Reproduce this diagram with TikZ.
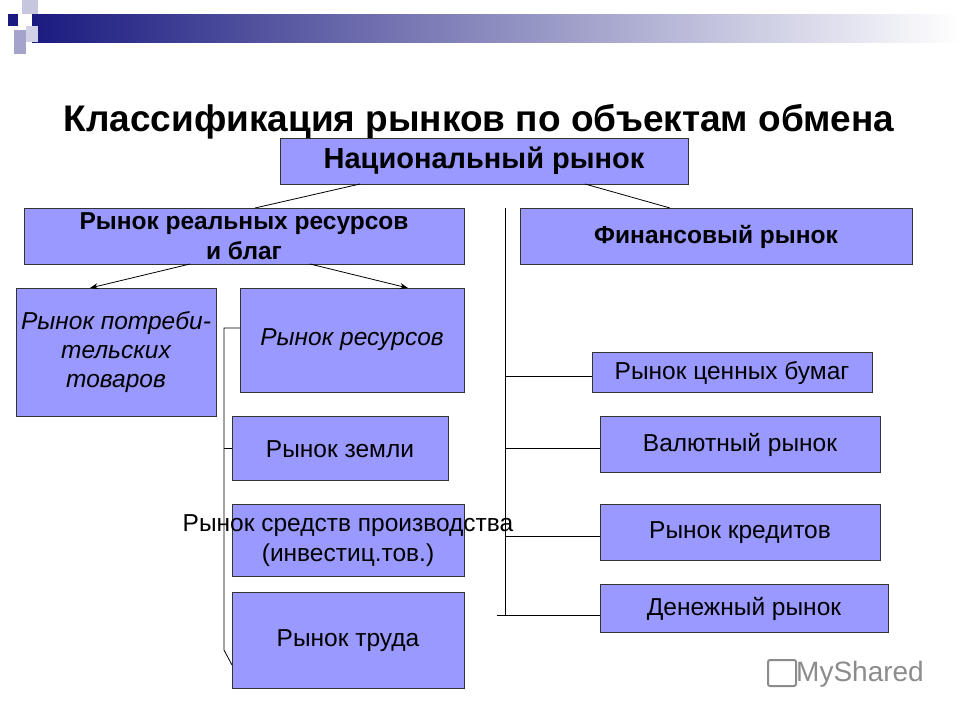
\documentclass[tikz,border=0pt]{standalone}
\usepackage{fontspec}
\setmainfont{Liberation Sans}
\usetikzlibrary{arrows.meta}
\definecolor{bx}{HTML}{9999FF}
\definecolor{navy}{HTML}{1A1A80}
\begin{document}
\begin{tikzpicture}[x=1pt,y=-1pt,
  box/.style={draw=black!80,fill=bx,line width=0.8pt},
  lbl/.style={align=center,font=\fontsize{24.5}{28}\selectfont},
  ln/.style={line width=0.8pt}]
\useasboundingbox (0,0) rectangle (960,720);
\fill[white] (0,0) rectangle (960,720);
% header
\shade[left color=navy,right color=white] (32,14) rectangle (960,42);
\fill[navy] (8,14) rectangle (18,26);
\fill[navy!25] (22,0) rectangle (38,14);
\fill[navy!40] (14,30) rectangle (26,54);
\fill[navy!20] (26,26) rectangle (38,42);
\node[font=\bfseries\fontsize{37}{42}\selectfont] (title) at (479,122) {Классификация рынков по объектам обмена};
% boxes
\draw[box] (280,138) rectangle (688,184); \node[font=\bfseries\fontsize{29}{34}\selectfont] (nat) at (484,161) {Национальный рынок};
\draw[box] (24,208) rectangle (464,264); \node[lbl,font=\bfseries\fontsize{24.5}{30}\selectfont] (real) at (244,236) {Рынок реальных ресурсов\\и благ};
\draw[box] (520,208) rectangle (912,264); \node[lbl,font=\bfseries\fontsize{24.5}{28}\selectfont] (fin) at (716,237) {Финансовый рынок};
\draw[box] (16,288) rectangle (216,416); \node[lbl,font=\itshape\fontsize{24.5}{29}\selectfont] (cons) at (116,352) {Рынок потреби-\\тельских\\товаров};
\draw[box] (240,288) rectangle (464,392); \node[lbl,font=\itshape\fontsize{24.5}{28}\selectfont] (res) at (352,340) {Рынок ресурсов};
\draw[box] (232,416) rectangle (448,480); \node[lbl] (land) at (340,449) {Рынок земли};
\draw[box] (232,504) rectangle (464,576); \node[lbl,font=\fontsize{24.5}{30}\selectfont] (mean) at (348,541) {Рынок средств производства\\(инвестиц.тов.)};
\draw[box] (232,592) rectangle (464,688); \node[lbl] (lab) at (348,641) {Рынок труда};
\draw[box] (592,352) rectangle (872,392); \node[lbl] (sec) at (732,373) {Рынок ценных бумаг};
\draw[box] (600,416) rectangle (880,472); \node[lbl] (cur) at (740,445) {Валютный рынок};
\draw[box] (600,504) rectangle (880,560); \node[lbl] (cred) at (740,533) {Рынок кредитов};
\draw[box] (600,584) rectangle (888,632); \node[lbl] (mon) at (744,609) {Денежный рынок};
% connectors
\coordinate (n1) at (360,184); \coordinate (n2) at (585,184);
\coordinate (r1) at (255,208); \coordinate (f1) at (670,208);
\draw[ln] (n1) -- (r1); \draw[ln] (n2) -- (f1);
\coordinate (a1) at (190,264); \coordinate (a2) at (90,288);
\coordinate (b1) at (310,264); \coordinate (b2) at (408,288);
\draw[ln,-{Stealth[length=8pt,width=6pt]}] (a1) -- (a2);
\draw[ln,-{Stealth[length=8pt,width=6pt]}] (b1) -- (b2);
% left bracket
\coordinate (lt) at (224,328); \coordinate (lb) at (224,650); \coordinate (le) at (232,665);
\draw[ln] (240,328) -- (lt) -- (lb) -- (le);
\draw[ln] (224,448) -- (232,448);
% right bracket
\draw[ln] (505,208) -- (505,615);
\draw[ln] (505,376) -- (592,376);
\draw[ln] (505,448) -- (600,448);
\draw[ln] (505,536) -- (600,536);
\draw[ln] (497,615) -- (600,615);
% watermark
\node[text=black!45,font=\fontsize{28}{32}\selectfont] (wm) at (860,674) {MyShared};
\draw[black!45,line width=2pt,rounded corners=2pt] (768,660) rectangle (796,686);
\end{tikzpicture}
\end{document}
